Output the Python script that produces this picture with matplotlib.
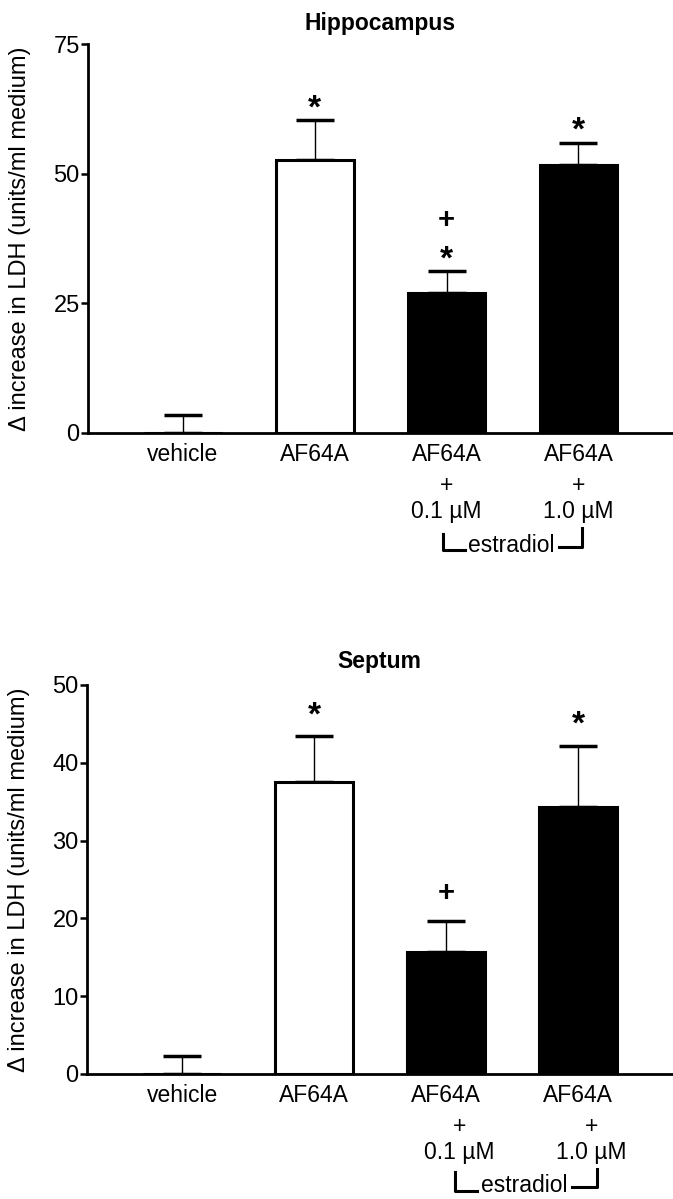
import matplotlib
matplotlib.use('Agg')
import matplotlib.pyplot as plt
import numpy as np

plt.rcParams['font.family'] = ['Liberation Sans', 'DejaVu Sans']

# Data
groups = ['vehicle', 'AF64A', 'AF64A', 'AF64A']
doses = ['', '', '0.1 \u00b5M', '1.0 \u00b5M']
bar_colors = ['white', 'white', 'black', 'black']

hippo_mean = [0, 52.7, 27.0, 51.7]
hippo_sem = [3.5, 7.7, 4.2, 4.3]
hippo_marks = [[], ['*'], ['*', '+'], ['*']]

septum_mean = [0, 37.5, 15.7, 34.3]
septum_sem = [2.3, 5.9, 3.9, 7.9]
septum_marks = [[], ['*'], ['+'], ['*']]

ylabel = '\u0394 increase in LDH (units/ml medium)'


def panel(ax, title, mean, sem, marks, ymax, step, title_pad, mark_off, dose_shift, bracket):
    x = np.arange(len(mean))
    ax.bar(x, mean, width=0.59, color=bar_colors, edgecolor='black', linewidth=2.2, zorder=2)
    ax.errorbar(x, mean, yerr=[np.zeros(len(sem)), sem], fmt='none', ecolor='black',
                elinewidth=1, capsize=14, capthick=2.5, zorder=1)

    # significance marks stacked above the error bars
    for i, syms in enumerate(marks):
        for k, s in enumerate(syms):
            base = 0.55 if s == '*' else 0.33
            size = 24 if s == '*' else 21
            ax.annotate(s, xy=(x[i], mean[i] + sem[i]), xytext=(0, mark_off + 23 * k - base * size),
                        textcoords='offset points', ha='center', va='baseline',
                        fontsize=size, fontweight='bold')

    ax.set_xlim(-0.72, 3.71)
    ax.set_ylim(0, ymax)
    ax.set_yticks(np.arange(0, ymax + 1, step))
    ax.set_xticks(x)
    ax.set_xticklabels(groups, fontsize=16.5)
    ax.tick_params(axis='x', length=0, pad=7)
    ax.tick_params(axis='y', length=5, width=1.8, labelsize=17, pad=1)
    for side in ['top', 'right']:
        ax.spines[side].set_visible(False)
    for side in ['left', 'bottom']:
        ax.spines[side].set_linewidth(2)

    tr = ax.get_xaxis_transform()
    for i, d in enumerate(doses):
        if d:
            ax.text(x[i] + dose_shift, -0.134, '+', transform=tr, ha='center', va='center',
                    fontsize=16.5)
            ax.text(x[i] + dose_shift, -0.203, d, transform=tr, ha='center', va='center',
                    fontsize=16.5)

    # estradiol bracket under the two estradiol groups
    xl, xl2, xt, xr2, xr, yl0, yl1, yt, yr0, yr1 = bracket
    kw = dict(transform=tr, color='black', lw=2.2, clip_on=False)
    ax.plot([xl, xl, xl2], [yl0, yl1, yl1], **kw)
    ax.plot([xr2, xr, xr], [yr1, yr1, yr0], **kw)
    ax.text(xt, yt, 'estradiol', transform=tr, ha='center', va='center', fontsize=16.5)

    ax.set_title(title, fontsize=16.5, fontweight='bold', pad=title_pad)
    ax.set_ylabel(ylabel, fontsize=17)
    ax.yaxis.set_label_coords(-0.098, 0.5)


fig = plt.figure(figsize=(6.73, 11.99), dpi=100)
ax1 = fig.add_axes([0.1308, 0.6389, 0.8677, 0.3244])
ax2 = fig.add_axes([0.1293, 0.1043, 0.8692, 0.3244])

panel(ax1, 'Hippocampus', hippo_mean, hippo_sem, hippo_marks, 75, 25, 10, 15, 0.0,
      (1.974, 2.14, 2.49, 2.85, 3.03, -0.260, -0.301, -0.290, -0.244, -0.293))
panel(ax2, 'Septum', septum_mean, septum_sem, septum_marks, 50, 10, 12, 22, 0.1,
      (2.07, 2.23, 2.59, 2.95, 3.14, -0.252, -0.301, -0.287, -0.244, -0.290))

fig.savefig('out.png', dpi=100)
